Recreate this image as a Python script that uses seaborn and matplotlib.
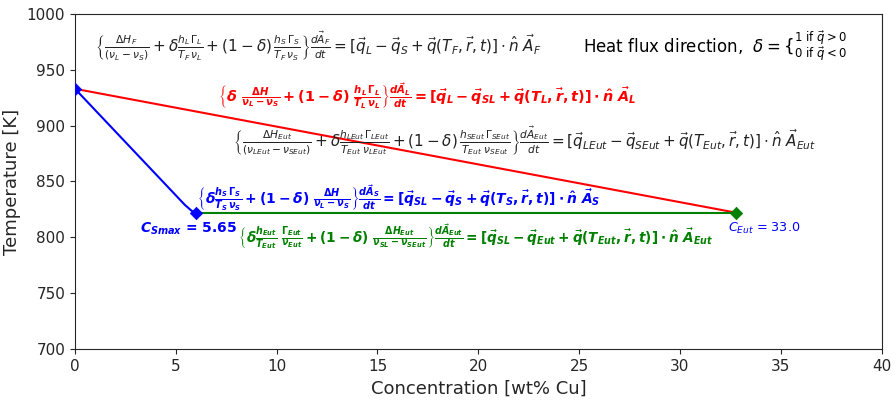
import matplotlib
matplotlib.use("Agg")
import matplotlib.pyplot as plt
import seaborn as sns
import pandas as pd

sns.set_style("ticks")
plt.rcParams['font.family'] = ['DejaVu Sans']
plt.rcParams['mathtext.fontset'] = 'dejavusans'
plt.rcParams['mathtext.it'] = 'DejaVu Sans:italic:bold'
plt.rcParams['mathtext.rm'] = 'DejaVu Sans:bold'
plt.rcParams['mathtext.bf'] = 'DejaVu Sans:bold'
plt.rcParams['mathtext.sf'] = 'DejaVu Sans:bold'
plt.rcParams['mathtext.fallback'] = 'stixsans'

# Data
liquidus_x = [0.0, 32.8]
liquidus_T = [933.0, 822.0]
solidus_x = [0.0, 5.45, 5.8, 6.0]
solidus_T = [933.0, 829.0, 823.5, 822.0]
eutectic_x = [6.0, 32.8]
eutectic_T = [822.0, 822.0]
solidus_marker_x = [0.0, 6.0]
solidus_marker_T = [933.0, 822.0]
eut_marker_x = [32.8]
eut_marker_T = [822.0]

fig = plt.figure(figsize=(8.96, 4.01), dpi=100)
ax = fig.add_axes([0.0837, 0.1297, 0.9003, 0.8354])

sns.lineplot(x=liquidus_x, y=liquidus_T, color='red', lw=1.5, ax=ax, sort=False)
sns.lineplot(x=eutectic_x, y=eutectic_T, color='green', lw=1.5, ax=ax, sort=False)
sns.lineplot(x=solidus_x, y=solidus_T, color='blue', lw=1.5, ax=ax, sort=False)
sns.scatterplot(x=solidus_marker_x, y=solidus_marker_T, color='blue', marker='D', s=40, ax=ax, edgecolor='blue', zorder=5)
sns.scatterplot(x=eut_marker_x, y=eut_marker_T, color='green', marker='D', s=40, ax=ax, edgecolor='green', zorder=5)

ax.set_xlim(0, 40)
ax.set_ylim(700, 1000)
ax.set_xlabel('Concentration [wt% Cu]', fontsize=13)
ax.set_ylabel('Temperature [K]', fontsize=13)
ax.tick_params(labelsize=11)

eq1 = (r'$\left\{\frac{\Delta H_F}{(\nu_L-\nu_S)}+\delta\frac{h_L\,\Gamma_L}{T_F\,\nu_L}'
       r'+(1-\delta)\,\frac{h_S\,\Gamma_S}{T_F\,\nu_S}\right\}\frac{d\vec{A}_F}{dt}'
       r'=[\vec{q}_L-\vec{q}_S+\vec{q}(T_F,\vec{r},t)]\cdot\hat{n}\ \vec{A}_F$')
ax.text(0.99, 970.5, eq1, fontsize=11, color='#222222', va='center', ha='left')

hf = r'Heat flux direction,  $\delta=\{^{1\ \mathrm{if}\ \vec{q}>0}_{0\ \mathrm{if}\ \vec{q}<0}$'
ax.text(25.2, 970.5, hf, fontsize=12, color='black', va='center', ha='left')

eqL = (r'$\left\{\delta\ \frac{\Delta H}{\nu_L-\nu_S}+(1-\delta)\ \frac{h_L\,\Gamma_L}{T_L\,\nu_L}\right\}'
       r'\frac{d\vec{A}_L}{dt}=[\vec{q}_L-\vec{q}_{SL}+\vec{q}(T_L,\vec{r},t)]\cdot\hat{n}\ \vec{A}_L$')
ax.text(7.1, 926.6, eqL, fontsize=10.4, color='red', fontweight='bold', va='center', ha='left',
        math_fontfamily='custom')

eqE = (r'$\left\{\frac{\Delta H_{Eut}}{(\nu_{LEut}-\nu_{SEut})}+\delta\frac{h_{LEut}\,\Gamma_{LEut}}{T_{Eut}\ \nu_{LEut}}'
       r'+(1-\delta)\,\frac{h_{SEut}\,\Gamma_{SEut}}{T_{Eut}\ \nu_{SEut}}\right\}\frac{d\vec{A}_{Eut}}{dt}'
       r'=[\vec{q}_{LEut}-\vec{q}_{SEut}+\vec{q}(T_{Eut},\vec{r},t)]\cdot\hat{n}\ \vec{A}_{Eut}$')
ax.text(7.83, 887, eqE, fontsize=10.9, color='#222222', va='center', ha='left')

eqS = (r'$\left\{\delta\frac{h_S\,\Gamma_S}{T_S\,\nu_S}+(1-\delta)\ \frac{\Delta H}{\nu_L-\nu_S}\right\}'
       r'\frac{d\vec{A}_S}{dt}=[\vec{q}_{SL}-\vec{q}_S+\vec{q}(T_S,\vec{r},t)]\cdot\hat{n}\ \vec{A}_S$')
ax.text(6.05, 835, eqS, fontsize=10, color='blue', fontweight='bold', va='center', ha='left',
        math_fontfamily='custom')

eqG = (r'$\left\{\delta\frac{h_{Eut}}{T_{Eut}}\ \frac{\Gamma_{Eut}}{\nu_{Eut}}+(1-\delta)\ \frac{\Delta H_{Eut}}{\nu_{SL}-\nu_{SEut}}\right\}'
       r'\frac{d\vec{A}_{Eut}}{dt}=[\vec{q}_{SL}-\vec{q}_{Eut}+\vec{q}(T_{Eut},\vec{r},t)]\cdot\hat{n}\ \vec{A}_{Eut}$')
ax.text(8.08, 800, eqG, fontsize=9.8, color='green', fontweight='bold', va='center', ha='left',
        math_fontfamily='custom')

ax.text(3.22, 808, r'$C_{Smax}$ = 5.65', fontsize=10, color='blue', fontweight='bold', va='center', ha='left',
        math_fontfamily='custom')
ax.text(32.4, 808, r'$C_{Eut}$ = 33.0', fontsize=9.2, color='blue', va='center', ha='left')

fig.savefig('out.png', dpi=100)
